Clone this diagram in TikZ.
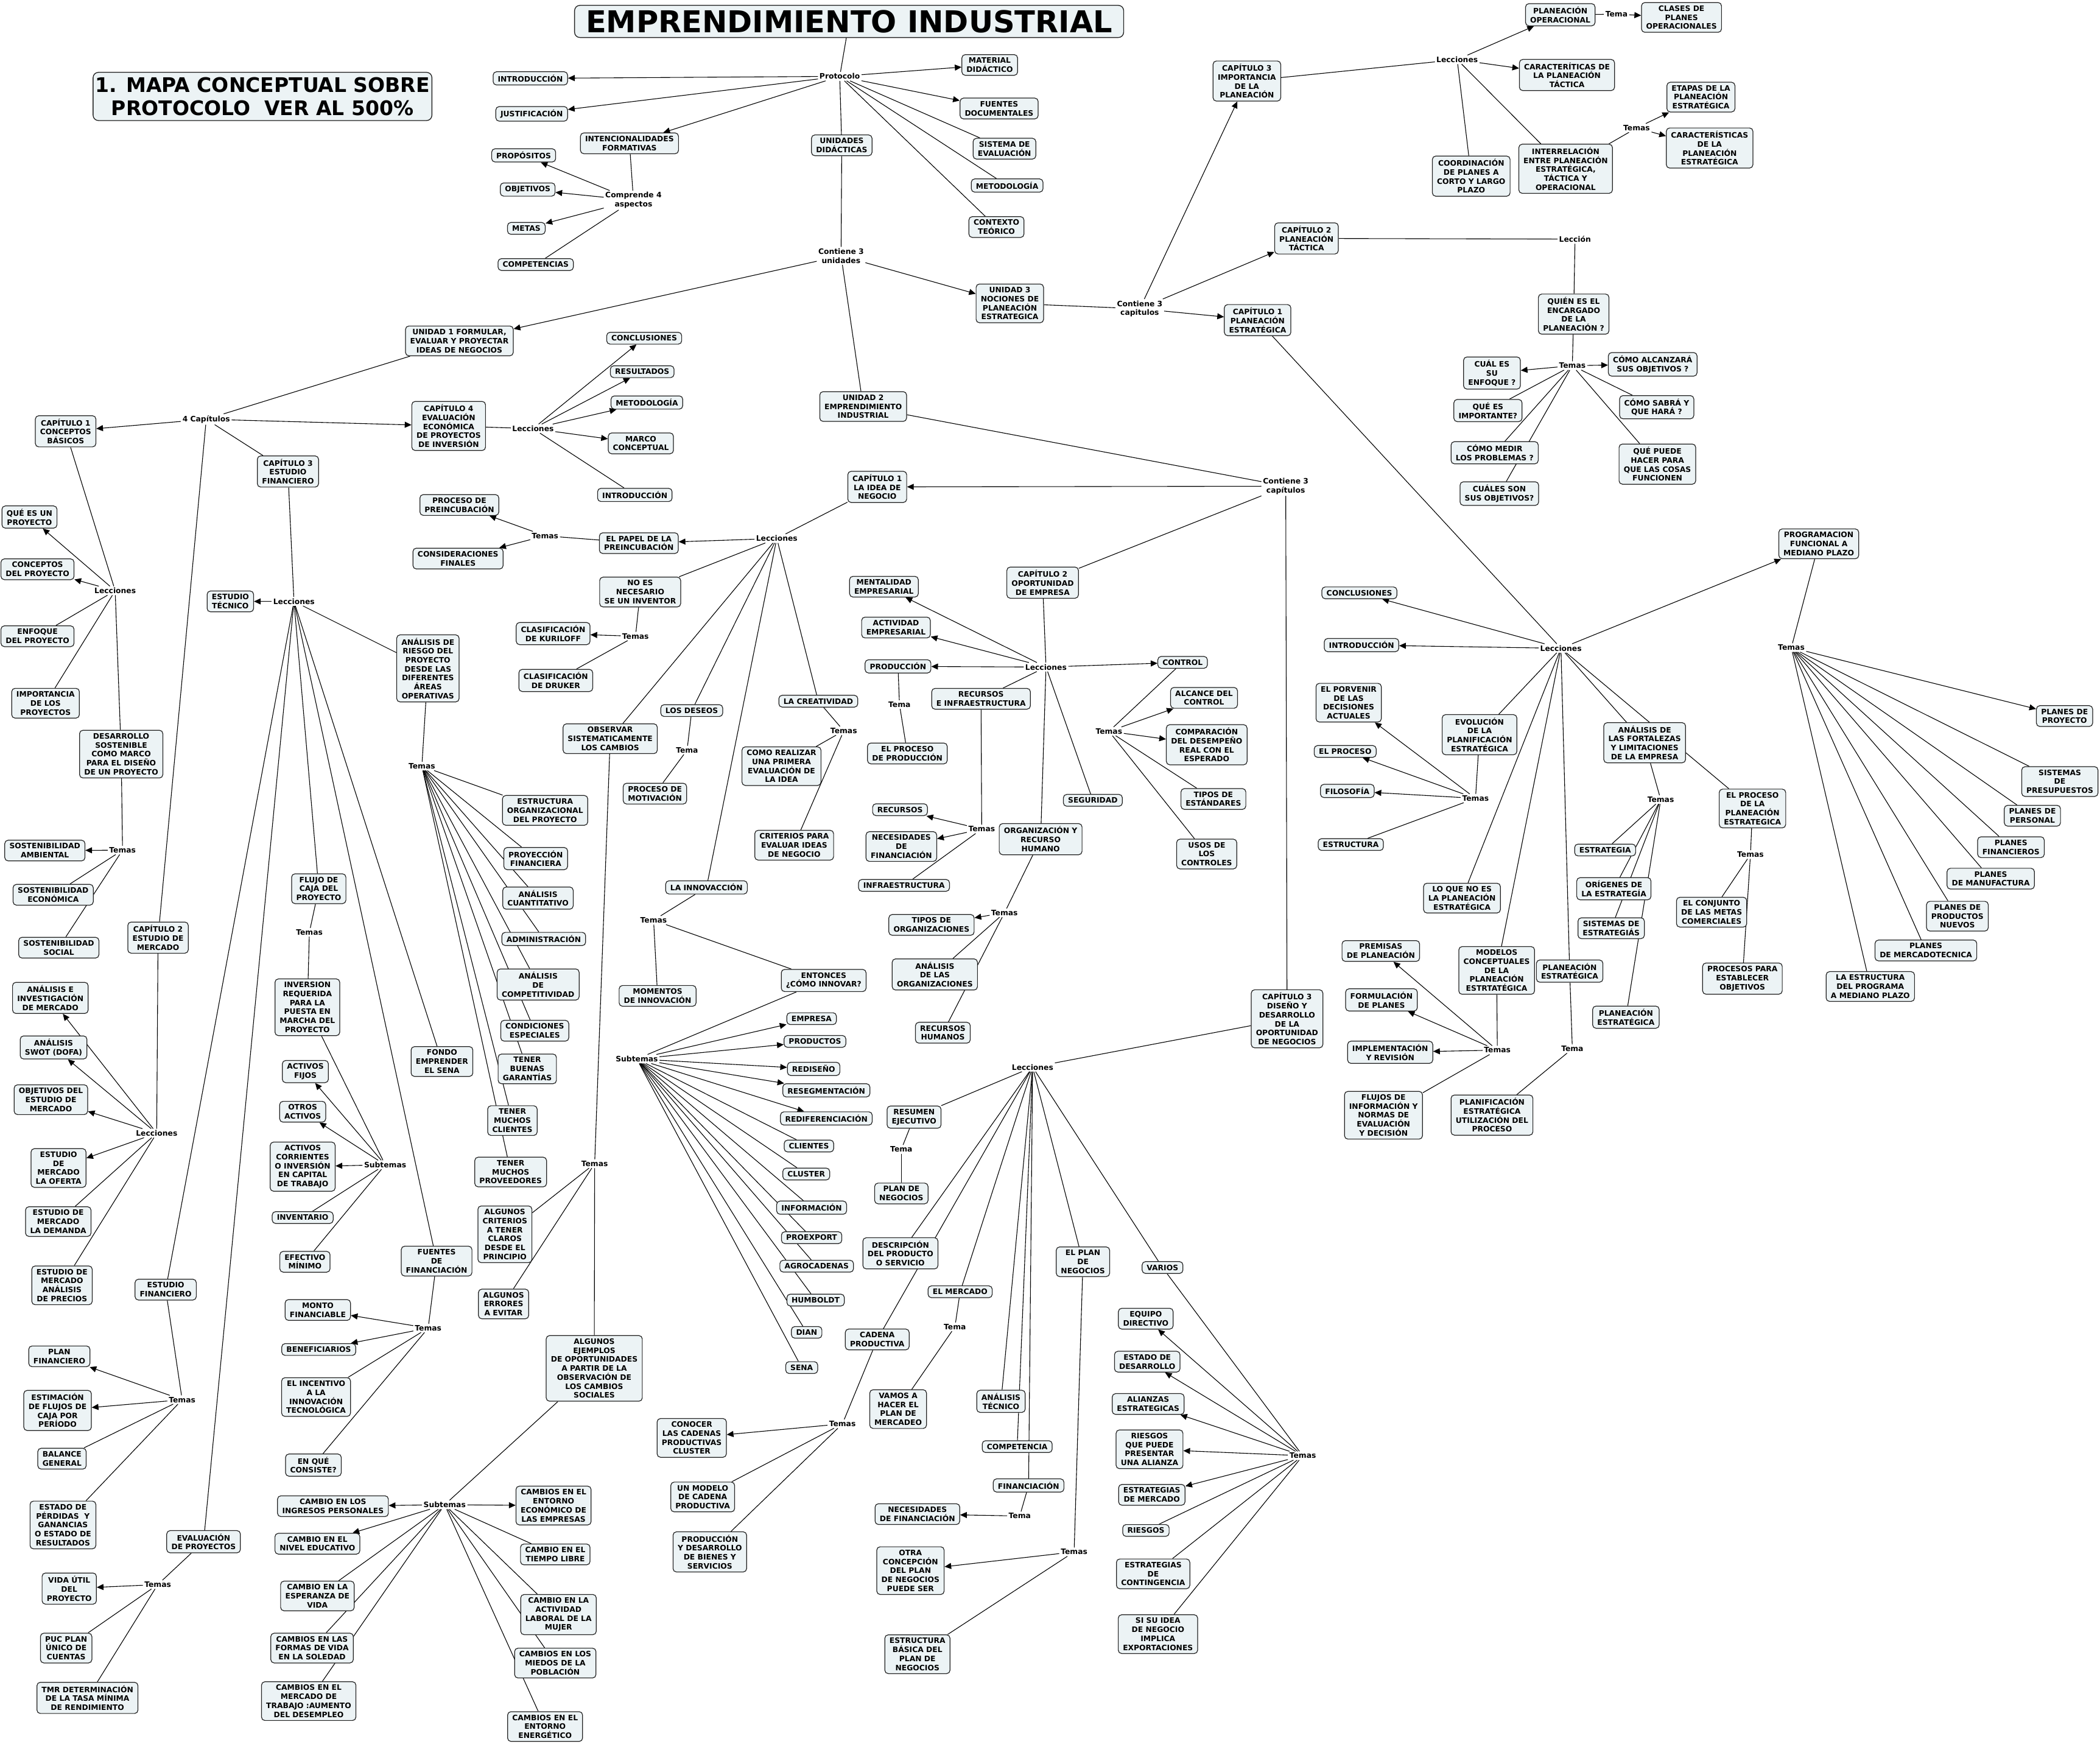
\documentclass[tikz,border=0pt]{standalone}
\usepackage{fontspec}
\setmainfont{DejaVu Sans}
\usetikzlibrary{arrows.meta}
\definecolor{boxfill}{RGB}{236,243,245}
\definecolor{boxline}{RGB}{35,35,35}
\newcommand\bxfont{\fontsize{5.6}{6.7}\selectfont\bfseries}
\pgfdeclarelayer{bg}
\pgfsetlayers{bg,main}
\begin{document}
\begin{tikzpicture}[x=1pt,y=-1pt,
 box/.style={draw=boxline, fill=boxfill, rounded corners=2.5pt, align=center, font=\bxfont, inner xsep=3.5pt, inner ysep=2.3pt, line width=0.55pt},
 lbl/.style={font=\bxfont, inner sep=1pt, align=center},
 ln/.style={line width=0.5pt, draw=black},
 ar/.style={line width=0.5pt, draw=black, -{Triangle[length=5pt,width=4.5pt]}},
]
\useasboundingbox (0,0) rectangle (1568,1302);
% ---------- titles ----------
\node[draw=boxline, fill=boxfill, rounded corners=4pt, minimum width=410pt, minimum height=24pt, inner sep=0pt, font=\fontsize{22.5}{24}\selectfont\bfseries, line width=0.6pt] (t0) at (634,16) {EMPRENDIMIENTO INDUSTRIAL};
\node[draw=boxline, fill=boxfill, rounded corners=4pt, minimum width=253pt, minimum height=36pt, inner sep=0pt, align=center, font=\fontsize{15}{17}\selectfont\bfseries, line width=0.6pt] (mapa) at (196,72) {1. MAPA CONCEPTUAL SOBRE\\PROTOCOLO\ \ VER AL 500\%};
% ---------- protocolo ----------
\node[lbl] (proto) at (627,57) {Protocolo};
\node[box] (intro1) at (396,58.5) {INTRODUCCIÓN};
\node[box] (just) at (397,85) {JUSTIFICACIÓN};
\node[box] (intenc) at (470,107) {INTENCIONALIDADES\\FORMATIVAS};
\node[box] (prop) at (391,116) {PROPÓSITOS};
\node[box] (obj) at (394,141.5) {OBJETIVOS};
\node[box] (metas) at (393,170.5) {METAS};
\node[box] (comp) at (400,197.5) {COMPETENCIAS};
\node[lbl] (compr) at (473,149.5) {Comprende 4\\aspectos};
\node[box] (matdid) at (739,48.5) {MATERIAL\\DIDÁCTICO};
\node[box] (fuentes) at (746,81) {FUENTES\\DOCUMENTALES};
\node[box] (siseval) at (750,111) {SISTEMA DE\\EVALUACIÓN};
\node[box] (metod1) at (752,138.5) {METODOLOGÍA};
\node[box] (contexto) at (744,169.5) {CONTEXTO\\TEÓRICO};
\node[box] (unid) at (628.5,108.5) {UNIDADES\\DIDÁCTICAS};
\node[lbl] (cont3u) at (628,191) {Contiene 3\\unidades};
\node[box] (u1) at (343,254.5) {UNIDAD 1 FORMULAR,\\EVALUAR Y PROYECTAR\\IDEAS DE NEGOCIOS};
\node[box] (u3) at (754,226.5) {UNIDAD 3\\NOCIONES DE\\PLANEACIÓN\\ESTRATEGICA};
\node[box] (u2) at (644.5,303.5) {UNIDAD 2\\EMPRENDIMIENTO\\INDUSTRIAL};
% ---------- unidad 1 ----------
\node[lbl] (cap4l) at (154,313) {4 Capítulos};
\node[box] (c1cb) at (49,322) {CAPÍTULO 1\\CONCEPTOS\\BÁSICOS};
\node[box] (c4) at (335,318) {CAPÍTULO 4\\EVALUACIÓN\\ECONÓMICA\\DE PROYECTOS\\DE INVERSIÓN};
\node[box] (c3ef) at (215,352) {CAPÍTULO 3\\ESTUDIO\\FINANCIERO};
\node[box] (c2em) at (118,700) {CAPÍTULO 2\\ESTUDIO DE\\MERCADO};
\node[lbl] (lec4) at (398,320) {Lecciones};
\node[box] (concl4) at (481,252.5) {CONCLUSIONES};
\node[box] (result) at (479.5,277.5) {RESULTADOS};
\node[box] (metod4) at (483,300.5) {METODOLOGÍA};
\node[box] (marco) at (478.5,331) {MARCO\\CONCEPTUAL};
\node[box] (intro4) at (474,369.5) {INTRODUCCIÓN};
\node[lbl] (lec1) at (86,441) {Lecciones};
\node[box] (queproy) at (22,386) {QUÉ ES UN\\PROYECTO};
\node[box] (concproy) at (28,425) {CONCEPTOS\\DEL PROYECTO};
\node[box] (enfoque) at (28,475) {ENFOQUE\\DEL PROYECTO};
\node[box] (import) at (34,525) {IMPORTANCIA\\DE LOS\\PROYECTOS};
\node[box] (desarr) at (90.5,563) {DESARROLLO\\SOSTENIBLE\\COMO MARCO\\PARA EL DISEÑO\\DE UN PROYECTO};
\node[lbl] (temdes) at (91.5,634.7) {Temas};
\node[box] (sosamb) at (33.5,635) {SOSTENIBILIDAD\\AMBIENTAL};
\node[box] (soseco) at (39.7,668) {SOSTENIBILIDAD\\ECONÓMICA};
\node[box] (sossoc) at (43.9,707.5) {SOSTENIBILIDAD\\SOCIAL};
\node[lbl] (lecm) at (117,846) {Lecciones};
\node[box] (anainv) at (37.6,745) {ANÁLISIS E\\INVESTIGACIÓN\\DE MERCADO};
\node[box] (swot) at (40,782) {ANÁLISIS\\SWOT (DOFA)};
\node[box] (objest) at (38,821) {OBJETIVOS DEL\\ESTUDIO DE\\MERCADO};
\node[box] (oferta) at (43.7,872) {ESTUDIO\\DE\\MERCADO\\LA OFERTA};
\node[box] (demanda) at (43.5,912) {ESTUDIO DE\\MERCADO\\LA DEMANDA};
\node[box] (precios) at (46.3,959.6) {ESTUDIO DE\\MERCADO\\ANÁLISIS\\DE PRECIOS};
\node[lbl] (lecf) at (219.5,449) {Lecciones};
\node[box] (esttec) at (172,449) {ESTUDIO\\TÉCNICO};
\node[box] (riesgo) at (319.5,499) {ANÁLISIS DE\\RIESGO DEL\\PROYECTO\\DESDE LAS\\DIFERENTES\\ÁREAS\\OPERATIVAS};
\node[lbl] (temr) at (315,572) {Temas};
\node[box] (estorg) at (407,605) {ESTRUCTURA\\ORGANIZACIONAL\\DEL PROYECTO};
\node[box] (proyfin) at (400,641) {PROYECCIÓN\\FINANCIERA};
\node[box] (anacuant) at (401.7,670.5) {ANÁLISIS\\CUANTITATIVO};
\node[box] (admin) at (406,701) {ADMINISTRACIÓN};
\node[box] (anacomp) at (401.8,735) {ANÁLISIS\\DE\\COMPETITIVIDAD};
\node[box] (condic) at (399.3,769.5) {CONDICIONES\\ESPECIALES};
\node[box] (garant) at (393.7,798) {TENER\\BUENAS\\GARANTÍAS};
\node[box] (clientes1) at (382.6,836.6) {TENER\\MUCHOS\\CLIENTES};
\node[box] (proveed) at (381.3,875) {TENER\\MUCHOS\\PROVEEDORES};
\node[box] (flujo) at (238,663.5) {FLUJO DE\\CAJA DEL\\PROYECTO};
\node[lbl] (temflujo) at (231,696) {Temas};
\node[box] (inver) at (229.5,752) {INVERSION\\REQUERIDA\\PARA LA\\PUESTA EN\\MARCHA DEL\\PROYECTO};
\node[lbl] (subinv) at (287.6,869.6) {Subtemas};
\node[box] (actfij) at (228,800) {ACTIVOS\\FIJOS};
\node[box] (otrosact) at (226,830) {OTROS\\ACTIVOS};
\node[box] (actcorr) at (226,871) {ACTIVOS\\CORRIENTES\\O INVERSIÓN\\EN CAPITAL\\DE TRABAJO};
\node[box] (invent) at (226,909) {INVENTARIO};
\node[box] (efect) at (227.7,942) {EFECTIVO\\MÍNIMO};
\node[box] (fondo) at (330,792.5) {FONDO\\EMPRENDER\\EL SENA};
\node[box] (fuentesf) at (326,941.5) {FUENTES\\DE\\FINANCIACIÓN};
\node[lbl] (temfu) at (319.7,991.5) {Temas};
\node[box] (monto) at (237.3,978) {MONTO\\FINANCIABLE};
\node[box] (benef) at (238,1007.5) {BENEFICIARIOS};
\node[box] (incent) at (236,1043) {EL INCENTIVO\\A LA\\INNOVACIÓN\\TECNOLÓGICA};
\node[box] (enque) at (234,1093.8) {EN QUÉ\\CONSISTE?};
\node[box] (estfin) at (123.7,962.8) {ESTUDIO\\FINANCIERO};
\node[lbl] (temef) at (136,1045) {Temas};
\node[box] (planfin) at (44.3,1012.6) {PLAN\\FINANCIERO};
\node[box] (estim) at (43,1053) {ESTIMACIÓN\\DE FLUJOS DE\\CAJA POR\\PERÍODO};
\node[box] (balance) at (46.3,1089) {BALANCE\\GENERAL};
\node[box] (estperd) at (47,1138.5) {ESTADO DE\\PÉRDIDAS\ \ Y\\GANANCIAS\\O ESTADO DE\\RESULTADOS};
\node[box] (evalp) at (152,1151) {EVALUACIÓN\\DE PROYECTOS};
\node[lbl] (temev) at (117.8,1183) {Temas};
\node[box] (vida) at (51.7,1186) {VIDA ÚTIL\\DEL\\PROYECTO};
\node[box] (puc) at (49.4,1230.4) {PUC PLAN\\ÚNICO DE\\CUENTAS};
\node[box] (tmr) at (65.3,1267.6) {TMR DETERMINACIÓN\\DE LA TASA MÍNIMA\\DE RENDIMIENTO};
% ---------- unidad 2 ----------
\node[lbl] (cont3c) at (960,363) {Contiene 3\\capítulos};
\node[box] (c1idea) at (655,363.5) {CAPÍTULO 1\\LA IDEA DE\\NEGOCIO};
\node[box] (c2op) at (778.5,435) {CAPÍTULO 2\\OPORTUNIDAD\\DE EMPRESA};
\node[box] (c3dis) at (961,760.6) {CAPÍTULO 3\\DISEÑO Y\\DESARROLLO\\DE LA\\OPORTUNIDAD\\DE NEGOCIOS};
\node[lbl] (leci) at (580,402) {Lecciones};
\node[box] (papel) at (477,405.5) {EL PAPEL DE LA\\PREINCUBACIÓN};
\node[lbl] (tempa) at (407,400) {Temas};
\node[box] (procpre) at (343,377) {PROCESO DE\\PREINCUBACIÓN};
\node[box] (consid) at (342,417) {CONSIDERACIONES\\FINALES};
\node[box] (noes) at (478,442) {NO ES\\NECESARIO\\SE UN INVENTOR};
\node[lbl] (temno) at (474.5,475) {Temas};
\node[box] (kuril) at (413,473) {CLASIFICACIÓN\\DE KURILOFF};
\node[box] (druker) at (415,508) {CLASIFICACIÓN\\DE DRUKER};
\node[box] (observ) at (455.6,551.5) {OBSERVAR\\SISTEMATICAMENTE\\LOS CAMBIOS};
\node[lbl] (temobs) at (444,868.8) {Temas};
\node[box] (criter) at (377,921.5) {ALGUNOS\\CRITERIOS\\A TENER\\CLAROS\\DESDE EL\\PRINCIPIO};
\node[box] (errores) at (376,973.5) {ALGUNOS\\ERRORES\\A EVITAR};
\node[box] (ejemplos) at (443.7,1021.6) {ALGUNOS\\EJEMPLOS\\DE OPORTUNIDADES\\A PARTIR DE LA\\OBSERVACIÓN DE\\LOS CAMBIOS\\SOCIALES};
\node[lbl] (subc) at (332,1123.4) {Subtemas};
\node[box] (ingres) at (248.6,1124.5) {CAMBIO EN LOS\\INGRESOS PERSONALES};
\node[box] (educ) at (237,1152.5) {CAMBIO EN EL\\NIVEL EDUCATIVO};
\node[box] (esper) at (237,1191.5) {CAMBIO EN LA\\ESPERANZA DE\\VIDA};
\node[box] (formas) at (233,1230.4) {CAMBIOS EN LAS\\FORMAS DE VIDA\\EN LA SOLEDAD};
\node[box] (trabajo) at (230.5,1270) {CAMBIOS EN EL\\MERCADO DE\\TRABAJO :AUMENTO\\DEL DESEMPLEO};
\node[box] (econ) at (413.3,1124) {CAMBIOS EN EL\\ENTORNO\\ECONÓMICO DE\\LAS EMPRESAS};
\node[box] (tiempo) at (414.6,1160.5) {CAMBIO EN EL\\TIEMPO LIBRE};
\node[box] (mujer) at (417,1205.4) {CAMBIO EN LA\\ACTIVIDAD\\LABORAL DE LA\\MUJER};
\node[box] (miedos) at (414.6,1241.6) {CAMBIOS EN LOS\\MIEDOS DE LA\\POBLACIÓN};
\node[box] (energ) at (407,1289) {CAMBIOS EN EL\\ENTORNO\\ENERGÉTICO};
\node[box] (deseos) at (516.5,530.5) {LOS DESEOS};
\node[lbl] (temde) at (513,560) {Tema};
\node[box] (motiv) at (489,592.5) {PROCESO DE\\MOTIVACIÓN};
\node[box] (creat) at (611,523.5) {LA CREATIVIDAD};
\node[lbl] (temcr) at (630,545.6) {Temas};
\node[box] (comoreal) at (583.5,572) {COMO REALIZAR\\UNA PRIMERA\\EVALUACIÓN DE\\LA IDEA};
\node[box] (criteval) at (593,631) {CRITERIOS PARA\\EVALUAR IDEAS\\DE NEGOCIO};
\node[box] (innov) at (527.5,662.5) {LA INNOVACCIÓN};
\node[lbl] (temin) at (488,687) {Temas};
\node[box] (momentos) at (491,743.5) {MOMENTOS\\DE INNOVACIÓN};
\node[box] (entonces) at (615,732) {ENTONCES\\¿CÓMO INNOVAR?};
\node[lbl] (subin) at (475.5,790.6) {Subtemas};
\node[box] (empresa) at (606,760.5) {EMPRESA};
\node[box] (productos) at (608.5,777.5) {PRODUCTOS};
\node[box] (redis) at (607.5,798) {REDISEÑO};
\node[box] (reseg) at (617,814) {RESEGMENTACIÓN};
\node[box] (redif) at (617,835) {REDIFERENCIACIÓN};
\node[box] (clientes2) at (604,855.6) {CLIENTES};
\node[box] (cluster) at (602,876.5) {CLUSTER};
\node[box] (info) at (606,901.6) {INFORMACIÓN};
\node[box] (proexp) at (606,924) {PROEXPORT};
\node[box] (agro) at (609.8,945.3) {AGROCADENAS};
\node[box] (humb) at (609,970.6) {HUMBOLDT};
\node[box] (dian) at (602.3,994.7) {DIAN};
\node[box] (sena) at (598.6,1021) {SENA};
\node[lbl] (lecop) at (781,498) {Lecciones};
\node[box] (mental) at (660,438) {MENTALIDAD\\EMPRESARIAL};
\node[box] (activ) at (669,468.5) {ACTIVIDAD\\EMPRESARIAL};
\node[box] (produc) at (670.5,497.5) {PRODUCCIÓN};
\node[lbl] (temprod) at (671.6,526) {Tema};
\node[box] (procprod) at (677.5,562.5) {EL PROCESO\\DE PRODUCCIÓN};
\node[box] (recinf) at (732.5,521.7) {RECURSOS\\E INFRAESTRUCTURA};
\node[lbl] (temrec) at (733,619) {Temas};
\node[box] (recursos) at (672,604.5) {RECURSOS};
\node[box] (necfin1) at (673,632) {NECESIDADES\\DE\\FINANCIACIÓN};
\node[box] (infra) at (675,661) {INFRAESTRUCTURA};
\node[box] (control) at (883,494.5) {CONTROL};
\node[lbl] (temctl) at (828,546) {Temas};
\node[box] (alcance) at (899,521) {ALCANCE DEL\\CONTROL};
\node[box] (compar) at (901,556) {COMPARACIÓN\\DEL DESEMPEÑO\\REAL CON EL\\ESPERADO};
\node[box] (tiposest) at (906,596.5) {TIPOS DE\\ESTÁNDARES};
\node[box] (usos) at (901,637.6) {USOS DE\\LOS\\CONTROLES};
\node[box] (segur) at (816,597.5) {SEGURIDAD};
\node[box] (orgrh) at (777,626.5) {ORGANIZACIÓN Y\\RECURSO\\HUMANO};
\node[lbl] (temorg) at (750,681.5) {Temas};
\node[box] (tiposorg) at (695.5,690.5) {TIPOS DE\\ORGANIZACIONES};
\node[box] (anaorg) at (698,727.5) {ANÁLISIS\\DE LAS\\ORGANIZACIONES};
\node[box] (rrhh) at (704,771) {RECURSOS\\HUMANOS};
\node[lbl] (lecd) at (771,796.7) {Lecciones};
\node[box] (resumen) at (682.5,834) {RESUMEN\\EJECUTIVO};
\node[lbl] (temres) at (673,858) {Tema};
\node[box] (plannego) at (673,891) {PLAN DE\\NEGOCIOS};
\node[box] (descr) at (672.3,935.7) {DESCRIPCIÓN\\DEL PRODUCTO\\O SERVICIO};
\node[box] (cadena) at (655,1000) {CADENA\\PRODUCTIVA};
\node[lbl] (temcad) at (629,1063) {Temas};
\node[box] (conocer) at (516.5,1073.5) {CONOCER\\LAS CADENAS\\PRODUCTIVAS\\CLUSTER};
\node[box] (modelo) at (524.7,1117.6) {UN MODELO\\DE CADENA\\PRODUCTIVA};
\node[box] (prodbs) at (530,1158.6) {PRODUCCIÓN\\Y DESARROLLO\\DE BIENES Y\\SERVICIOS};
\node[box] (mercado) at (716.9,964.4) {EL MERCADO};
\node[lbl] (temmer) at (713,990.6) {Tema};
\node[box] (vamos) at (670.6,1052) {VAMOS A\\HACER EL\\PLAN DE\\MERCADEO};
\node[box] (anatec) at (747.4,1046.2) {ANÁLISIS\\TÉCNICO};
\node[box] (compet) at (759.5,1080) {COMPETENCIA};
\node[box] (financ) at (768,1109) {FINANCIACIÓN};
\node[lbl] (temfin) at (761.4,1131.8) {Tema};
\node[box] (necfin2) at (685,1130.4) {NECESIDADES\\DE FINANCIACIÓN};
\node[box] (planneg) at (808.6,942) {EL PLAN\\DE\\NEGOCIOS};
\node[lbl] (tempn) at (802,1158.6) {Temas};
\node[box] (otra) at (679.8,1172.6) {OTRA\\CONCEPCIÓN\\DEL PLAN\\DE NEGOCIOS\\PUEDE SER};
\node[box] (estrbas) at (685,1235) {ESTRUCTURA\\BÁSICA DEL\\PLAN DE\\NEGOCIOS};
\node[box] (varios) at (868,946.3) {VARIOS};
\node[lbl] (temvar) at (972.7,1086.8) {Temas};
\node[box] (equipo) at (855.5,984.5) {EQUIPO\\DIRECTIVO};
\node[box] (estdes) at (856.6,1016.6) {ESTADO DE\\DESARROLLO};
\node[box] (alianzas) at (857.3,1048.2) {ALIANZAS\\ESTRATEGICAS};
\node[box] (riesgal) at (858.3,1082) {RIESGOS\\QUE PUEDE\\PRESENTAR\\UNA ALIANZA};
\node[box] (estmerc) at (860,1116) {ESTRATEGIAS\\DE MERCADO};
\node[box] (riesgos) at (855.6,1142.6) {RIESGOS};
\node[box] (conting) at (861,1175) {ESTRATEGIAS\\DE\\CONTINGENCIA};
\node[box] (siidea) at (864.6,1220) {SI SU IDEA\\DE NEGOCIO\\IMPLICA\\EXPORTACIONES};
% ---------- unidad 3 ----------
\node[lbl] (cont3p) at (851,230.5) {Contiene 3\\capitulos};
\node[box] (c3imp) at (931,60.5) {CAPÍTULO 3\\IMPORTANCIA\\DE LA\\PLANEACIÓN};
\node[lbl] (lect) at (1088,44.5) {Lecciones};
\node[box] (planop) at (1165,11) {PLANEACIÓN\\OPERACIONAL};
\node[lbl] (temaop) at (1207,10.6) {Tema};
\node[box] (clases) at (1255.5,13) {CLASES DE\\PLANES\\OPERACIONALES};
\node[box] (caract) at (1170,56) {CARACTERÍTICAS DE\\LA PLANEACIÓN\\TÁCTICA};
\node[box] (coord) at (1098.5,131.5) {COORDINACIÓN\\DE PLANES A\\CORTO Y LARGO\\PLAZO};
\node[box] (interr) at (1169,126) {INTERRELACIÓN\\ENTRE PLANEACIÓN\\ESTRATÉGICA,\\TÁCTICA Y\\OPERACIONAL};
\node[lbl] (teminter) at (1222,95.5) {Temas};
\node[box] (etapas) at (1270,72.5) {ETAPAS DE LA\\PLANEACIÓN\\ESTRATÉGICA};
\node[box] (caractest) at (1276.5,110.5) {CARACTERÍSTICAS\\DE LA\\PLANEACIÓN\\ESTRATÉGICA};
\node[box] (c2tac) at (975.5,178) {CAPÍTULO 2\\PLANEACIÓN\\TÁCTICA};
\node[lbl] (leccion) at (1176,178.5) {Lección};
\node[box] (quien) at (1175,234.5) {QUIÉN ES EL\\ENCARGADO\\DE LA\\PLANEACIÓN ?};
\node[lbl] (temq) at (1174,273) {Temas};
\node[box] (cual) at (1114,278.5) {CUÁL ES\\SU\\ENFOQUE ?};
\node[box] (queimp) at (1111,306.5) {QUÉ ES\\IMPORTANTE?};
\node[box] (medir) at (1116,338) {CÓMO MEDIR\\LOS PROBLEMAS ?};
\node[box] (cuales) at (1119.5,368.5) {CUÁLES SON\\SUS OBJETIVOS?};
\node[box] (alcanz) at (1234,272) {CÓMO ALCANZARÁ\\SUS OBJETIVOS ?};
\node[box] (sabra) at (1237,304) {CÓMO SABRÁ Y\\QUE HARÁ ?};
\node[box] (puede) at (1237.5,346.5) {QUÉ PUEDE\\HACER PARA\\QUE LAS COSAS\\FUNCIONEN};
\node[box] (c1est) at (939,239) {CAPÍTULO 1\\PLANEACIÓN\\ESTRATÉGICA};
\node[lbl] (lecr) at (1165.5,484) {Lecciones};
\node[box] (concl2) at (1015,442.6) {CONCLUSIONES};
\node[box] (intro2) at (1016.6,481.6) {INTRODUCCIÓN};
\node[box] (progr) at (1358,406) {PROGRAMACION\\FUNCIONAL A\\MEDIANO PLAZO};
\node[lbl] (temprog) at (1337.5,483.5) {Temas};
\node[box] (planproy) at (1541.5,534.6) {PLANES DE\\PROYECTO};
\node[box] (sispres) at (1538,583.5) {SISTEMAS\\DE\\PRESUPUESTOS};
\node[box] (planpers) at (1517.5,609) {PLANES DE\\PERSONAL};
\node[box] (planfins) at (1501.5,632.5) {PLANES\\FINANCIEROS};
\node[box] (planmanu) at (1486.4,656) {PLANES\\DE MANUFACTURA};
\node[box] (planprod) at (1461.5,684) {PLANES DE\\PRODUCTOS\\NUEVOS};
\node[box] (planmerc) at (1438,709.6) {PLANES\\DE MERCADOTECNICA};
\node[box] (estrprog) at (1396.5,736.5) {LA ESTRUCTURA\\DEL PROGRAMA\\A MEDIANO PLAZO};
\node[box] (porvenir) at (1007,524.6) {EL PORVENIR\\DE LAS\\DECISIONES\\ACTUALES};
\node[box] (evol) at (1104.7,548.5) {EVOLUCIÓN\\DE LA\\PLANIFICACIÓN\\ESTRATÉGICA};
\node[box] (proceso) at (1004.4,561) {EL PROCESO};
\node[box] (filos) at (1006,590.5) {FILOSOFÍA};
\node[lbl] (temevol) at (1101.7,596) {Temas};
\node[box] (estruct) at (1008.6,630.5) {ESTRUCTURA};
\node[box] (loque) at (1091.6,670.5) {LO QUE NO ES\\LA PLANEACIÓN\\ESTRATÉGICA};
\node[box] (fortal) at (1228,554.5) {ANÁLISIS DE\\LAS FORTALEZAS\\Y LIMITACIONES\\DE LA EMPRESA};
\node[lbl] (temfort) at (1240,597) {Temas};
\node[box] (estrat) at (1198.5,634.6) {ESTRATEGIA};
\node[box] (origen) at (1205,663.5) {ORÍGENES DE\\LA ESTRATEGÍA};
\node[box] (sisest) at (1203,693) {SISTEMAS DE\\ESTRATEGIÁS};
\node[box] (planest2) at (1214,759.4) {PLANEACIÓN\\ESTRATÉGICA};
\node[box] (procpl) at (1308.5,603.6) {EL PROCESO\\DE LA\\PLANEACIÓN\\ESTRATEGICA};
\node[lbl] (temproc) at (1307,638) {Temas};
\node[box] (conjunto) at (1278,681) {EL CONJUNTO\\DE LAS METAS\\COMERCIALES};
\node[box] (procobj) at (1301,730.6) {PROCESOS PARA\\ESTABLECER\\OBJETIVOS};
\node[box] (modelos) at (1117.5,724.5) {MODELOS\\CONCEPTUALES\\DE LA\\PLANEACIÓN\\ESTRTATÉGICA};
\node[lbl] (temmod) at (1118,784) {Temas};
\node[box] (premisas) at (1031,710) {PREMISAS\\DE PLANEACIÓN};
\node[box] (formul) at (1031.5,746.5) {FORMULACIÓN\\DE PLANES};
\node[box] (implem) at (1038,785.6) {IMPLEMENTACIÓN\\Y REVISIÓN};
\node[box] (flujos) at (1033,832.6) {FLUJOS DE\\INFORMACIÓN Y\\NORMAS DE\\EVALUACIÓN\\Y DECISIÓN};
\node[box] (planest1) at (1172,725) {PLANEACIÓN\\ESTRATÉGICA};
\node[lbl] (temape) at (1174,783) {Tema};
\node[box] (planif) at (1114,832.5) {PLANIFICACIÓN\\ESTRATÉGICA\\UTILIZACIÓN DEL\\PROCESO};
% ---------- connectors ----------
\begin{pgfonlayer}{bg}
\fill[white] (0,0) rectangle (1568,1302);
\draw[ln] (t0) -- (proto);
\foreach \t in {intro1,just,intenc,matdid,fuentes} \draw[ar] (proto) -- (\t);
\foreach \t in {siseval,metod1,contexto,unid} \draw[ln] (proto) -- (\t);
\draw[ln] (intenc) -- (compr);
\foreach \t in {prop,obj,metas} \draw[ar] (compr) -- (\t);
\draw[ln] (compr) -- (comp);
\draw[ln] (unid) -- (cont3u);
\draw[ar] (cont3u) -- (u1); \draw[ar] (cont3u) -- (u3); \draw[ln] (cont3u) -- (u2);
% unidad 1
\draw[ln] (u1) -- (cap4l);
\draw[ar] (cap4l) -- (c1cb); \draw[ar] (cap4l) -- (c4);
\draw[ln] (cap4l) -- (c3ef); \draw[ln] (cap4l) -- (c2em);
\draw[ln] (c4) -- (lec4);
\foreach \t in {concl4,result,metod4,marco} \draw[ar] (lec4) -- (\t);
\draw[ln] (lec4) -- (intro4);
\draw[ln] (c1cb) -- (lec1);
\draw[ar] (lec1) -- (queproy); \draw[ar] (lec1) -- (concproy);
\foreach \t in {enfoque,import,desarr} \draw[ln] (lec1) -- (\t);
\draw[ln] (desarr) -- (temdes);
\draw[ar] (temdes) -- (sosamb); \draw[ln] (temdes) -- (soseco); \draw[ln] (temdes) -- (sossoc);
\draw[ln] (c2em) -- (lecm);
\foreach \t in {anainv,swot,objest,oferta} \draw[ar] (lecm) -- (\t);
\draw[ln] (lecm) -- (demanda); \draw[ln] (lecm) -- (precios);
\draw[ln] (c3ef) -- (lecf);
\draw[ar] (lecf) -- (esttec);
\foreach \t in {riesgo,flujo,fondo,fuentesf,estfin,evalp} \draw[ln] (lecf) -- (\t);
\draw[ln] (riesgo) -- (temr);
\foreach \t in {estorg,proyfin,anacuant,admin,anacomp,condic,garant,clientes1,proveed} \draw[ln] (temr) -- (\t);
\draw[ln] (flujo) -- (temflujo); \draw[ln] (temflujo) -- (inver);
\draw[ln] (inver) -- (subinv);
\foreach \t in {actfij,otrosact,actcorr} \draw[ar] (subinv) -- (\t);
\draw[ln] (subinv) -- (invent); \draw[ln] (subinv) -- (efect);
\draw[ln] (fuentesf) -- (temfu);
\draw[ar] (temfu) -- (monto); \draw[ar] (temfu) -- (benef);
\draw[ln] (temfu) -- (incent); \draw[ln] (temfu) -- (enque);
\draw[ln] (estfin) -- (temef);
\draw[ar] (temef) -- (planfin); \draw[ar] (temef) -- (estim);
\draw[ln] (temef) -- (balance); \draw[ln] (temef) -- (estperd);
\draw[ln] (evalp) -- (temev);
\draw[ar] (temev) -- (vida); \draw[ln] (temev) -- (puc); \draw[ln] (temev) -- (tmr);
% unidad 2
\draw[ln] (u2) -- (cont3c);
\draw[ar] (cont3c) -- (c1idea); \draw[ln] (cont3c) -- (c2op); \draw[ln] (cont3c) -- (c3dis);
\draw[ln] (c1idea) -- (leci);
\draw[ar] (leci) -- (papel);
\foreach \t in {noes,observ,deseos,innov,creat} \draw[ln] (leci) -- (\t);
\draw[ln] (papel) -- (tempa);
\draw[ar] (tempa) -- (procpre); \draw[ar] (tempa) -- (consid);
\draw[ln] (noes) -- (temno);
\draw[ar] (temno) -- (kuril); \draw[ln] (temno) -- (druker);
\draw[ln] (observ) -- (temobs);
\foreach \t in {criter,errores,ejemplos} \draw[ln] (temobs) -- (\t);
\draw[ln] (ejemplos) -- (subc);
\foreach \t in {ingres,educ,econ} \draw[ar] (subc) -- (\t);
\foreach \t in {esper,formas,trabajo,tiempo,mujer,miedos,energ} \draw[ln] (subc) -- (\t);
\draw[ln] (deseos) -- (temde); \draw[ln] (temde) -- (motiv);
\draw[ln] (creat) -- (temcr); \draw[ln] (temcr) -- (comoreal); \draw[ln] (temcr) -- (criteval);
\draw[ln] (innov) -- (temin); \draw[ln] (temin) -- (momentos); \draw[ln] (temin) -- (entonces);
\draw[ln] (entonces) -- (subin);
\foreach \t in {empresa,productos,redis,reseg,redif} \draw[ar] (subin) -- (\t);
\foreach \t in {clientes2,cluster,info,proexp,agro,humb,dian,sena} \draw[ln] (subin) -- (\t);
\draw[ln] (c2op) -- (lecop);
\foreach \t in {mental,activ,produc,control} \draw[ar] (lecop) -- (\t);
\foreach \t in {recinf,segur,orgrh} \draw[ln] (lecop) -- (\t);
\draw[ln] (produc) -- (temprod); \draw[ln] (temprod) -- (procprod);
\draw[ln] (recinf) -- (temrec);
\draw[ar] (temrec) -- (recursos); \draw[ar] (temrec) -- (necfin1); \draw[ln] (temrec) -- (infra);
\draw[ln] (control) -- (temctl);
\draw[ar] (temctl) -- (alcance); \draw[ar] (temctl) -- (compar);
\draw[ln] (temctl) -- (tiposest); \draw[ln] (temctl) -- (usos);
\draw[ln] (orgrh) -- (temorg);
\draw[ar] (temorg) -- (tiposorg); \draw[ln] (temorg) -- (anaorg); \draw[ln] (temorg) -- (rrhh);
\draw[ln] (c3dis) -- (lecd);
\foreach \t in {resumen,descr,cadena,mercado,anatec,compet,financ,planneg,varios} \draw[ln] (lecd) -- (\t);
\draw[ln] (resumen) -- (temres); \draw[ln] (temres) -- (plannego);
\draw[ln] (cadena) -- (temcad);
\draw[ar] (temcad) -- (conocer); \draw[ln] (temcad) -- (modelo); \draw[ln] (temcad) -- (prodbs);
\draw[ln] (mercado) -- (temmer); \draw[ln] (temmer) -- (vamos);
\draw[ln] (financ) -- (temfin); \draw[ar] (temfin) -- (necfin2);
\draw[ln] (planneg) -- (tempn);
\draw[ar] (tempn) -- (otra); \draw[ln] (tempn) -- (estrbas);
\draw[ln] (varios) -- (temvar);
\foreach \t in {equipo,estdes,alianzas,riesgal,estmerc} \draw[ar] (temvar) -- (\t);
\foreach \t in {riesgos,conting,siidea} \draw[ln] (temvar) -- (\t);
% unidad 3
\draw[ln] (u3) -- (cont3p);
\foreach \t in {c3imp,c2tac,c1est} \draw[ar] (cont3p) -- (\t);
\draw[ln] (c3imp) -- (lect);
\draw[ar] (lect) -- (planop); \draw[ar] (lect) -- (caract);
\draw[ln] (lect) -- (coord); \draw[ln] (lect) -- (interr);
\draw[ln] (planop) -- (temaop); \draw[ar] (temaop) -- (clases);
\draw[ln] (interr) -- (teminter);
\draw[ar] (teminter) -- (etapas); \draw[ar] (teminter) -- (caractest);
\draw[ln] (c2tac) -- (leccion); \draw[ln] (leccion) -- (quien); \draw[ln] (quien) -- (temq);
\draw[ar] (temq) -- (cual); \draw[ar] (temq) -- (alcanz);
\foreach \t in {queimp,medir,cuales,sabra,puede} \draw[ln] (temq) -- (\t);
\draw[ln] (c1est) -- (lecr);
\foreach \t in {concl2,intro2,progr} \draw[ar] (lecr) -- (\t);
\foreach \t in {evol,loque,modelos,planest1,fortal,procpl} \draw[ln] (lecr) -- (\t);
\draw[ln] (progr) -- (temprog);
\draw[ar] (temprog) -- (planproy);
\foreach \t in {sispres,planpers,planfins,planmanu,planprod,planmerc,estrprog} \draw[ln] (temprog) -- (\t);
\draw[ln] (evol) -- (temevol);
\foreach \t in {porvenir,proceso,filos} \draw[ar] (temevol) -- (\t);
\draw[ln] (temevol) -- (estruct);
\draw[ln] (fortal) -- (temfort);
\foreach \t in {estrat,origen,sisest,planest2} \draw[ln] (temfort) -- (\t);
\draw[ln] (procpl) -- (temproc);
\draw[ln] (temproc) -- (conjunto); \draw[ln] (temproc) -- (procobj);
\draw[ln] (modelos) -- (temmod);
\foreach \t in {premisas,formul,implem} \draw[ar] (temmod) -- (\t);
\draw[ln] (temmod) -- (flujos);
\draw[ln] (planest1) -- (temape); \draw[ln] (temape) -- (planif);
\end{pgfonlayer}
\end{tikzpicture}
\end{document}
